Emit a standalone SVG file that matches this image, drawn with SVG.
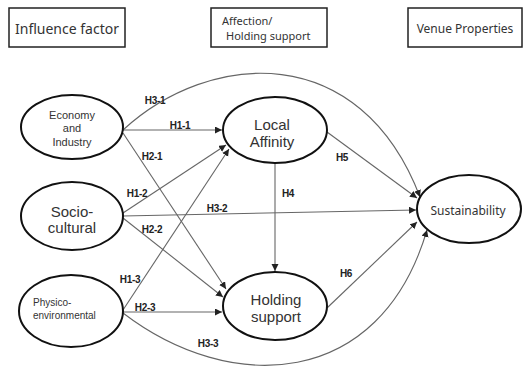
<svg xmlns="http://www.w3.org/2000/svg" width="529" height="367" viewBox="0 0 529 367">
<style>
.hdr{fill:#fff;stroke:#222;stroke-width:1.5}
.ell{fill:#fff;stroke:#111;stroke-width:2}
.t{font-family:"Noto Sans","Open Sans","DejaVu Sans",sans-serif;fill:#333;text-anchor:middle}
.n{font-family:"Liberation Sans",Arial,sans-serif;fill:#333;text-anchor:middle}
.c{fill:none;stroke:#666;stroke-width:1.1;marker-end:url(#ah)}
.lb{font-family:"Liberation Sans",Arial,sans-serif;font-weight:bold;font-size:10px;fill:#222;text-anchor:middle;letter-spacing:-0.3px}
</style>
<defs>
<marker id="ah" markerWidth="8" markerHeight="8" refX="7" refY="3.5" orient="auto" markerUnits="userSpaceOnUse">
<path d="M0,0 L7,3.5 L0,7 z" fill="#222"/>
</marker>
</defs>
<rect width="529" height="367" fill="#fff"/>
<g id="hdr-influence"><rect class="hdr" x="9" y="8" width="116" height="39"/><text class="t" x="67" y="34" font-size="14">Influence factor</text></g>
<g id="hdr-affection"><rect class="hdr" x="211" y="8" width="116" height="39"/><text class="t" x="222" y="25" font-size="11" style="text-anchor:start">Affection/</text><text class="t" x="226" y="40" font-size="11" style="text-anchor:start">Holding support</text></g>
<g id="hdr-venue"><rect class="hdr" x="408" y="8" width="114" height="39"/><text class="t" x="465" y="33" font-size="12">Venue Properties</text></g>
<g id="connectors">
<path class="c" d="M123,130 L222,130"/>
<path class="c" d="M123,213 L226,145"/>
<path class="c" d="M123,310 L229,149"/>
<path class="c" d="M123,133 L226,289"/>
<path class="c" d="M123,218 L223,297"/>
<path class="c" d="M123,312 L222,312"/>
<path class="c" d="M123,130 C210,50 360,40 420,197"/>
<path class="c" d="M123,216 L416,210"/>
<path class="c" d="M123,313 C230,395 380,390 427,230"/>
<path class="c" d="M275,163 L275,271"/>
<path class="c" d="M327,132 L417,198"/>
<path class="c" d="M327,308 L417,222"/>
</g>
<g id="labels">
<text class="lb" x="155" y="104">H3-1</text>
<text class="lb" x="180" y="129">H1-1</text>
<text class="lb" x="152" y="160">H2-1</text>
<text class="lb" x="137" y="197">H1-2</text>
<text class="lb" x="217" y="212">H3-2</text>
<text class="lb" x="152" y="233">H2-2</text>
<text class="lb" x="130" y="283">H1-3</text>
<text class="lb" x="145" y="311">H2-3</text>
<text class="lb" x="208" y="347">H3-3</text>
<text class="lb" x="288" y="197">H4</text>
<text class="lb" x="342" y="161">H5</text>
<text class="lb" x="346" y="277">H6</text>
</g>
<g id="node-economy"><ellipse class="ell" cx="72" cy="127" rx="51" ry="32"/><text class="n" font-size="11"><tspan x="72" y="119">Economy</tspan><tspan x="72" y="132">and</tspan><tspan x="72" y="146">Industry</tspan></text></g>
<g id="node-socio"><ellipse class="ell" cx="72" cy="216" rx="51" ry="34"/><text class="n" font-size="15"><tspan x="72" y="217">Socio-</tspan><tspan x="72" y="233">cultural</tspan></text></g>
<g id="node-physico"><ellipse class="ell" cx="71" cy="311" rx="52" ry="36"/><text class="n" font-size="10" style="text-anchor:start"><tspan x="33" y="306">Physico-</tspan><tspan x="33" y="319">environmental</tspan></text></g>
<g id="node-local"><ellipse class="ell" cx="275" cy="130" rx="52" ry="33"/><text class="n" font-size="15"><tspan x="272" y="130">Local</tspan><tspan x="272" y="147">Affinity</tspan></text></g>
<g id="node-holding"><ellipse class="ell" cx="275" cy="306" rx="52" ry="34"/><text class="n" font-size="15"><tspan x="276" y="305">Holding</tspan><tspan x="276" y="322">support</tspan></text></g>
<g id="node-sustain"><ellipse class="ell" cx="469" cy="209" rx="52" ry="34"/><text class="t" x="468" y="215" font-size="12">Sustainability</text></g>
</svg>
